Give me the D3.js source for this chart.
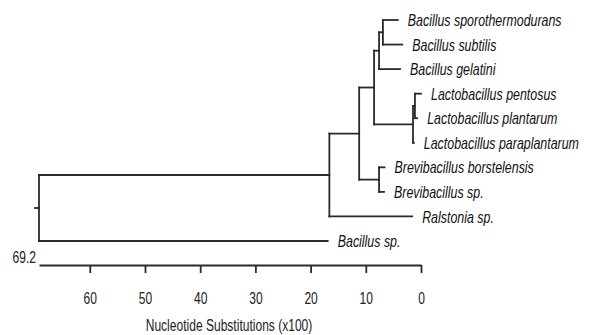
<!DOCTYPE html>
<html>
<head>
<meta charset="utf-8">
<script src="https://cdn.jsdelivr.net/npm/d3@7"></script>
<style>
  body { margin: 0; background: #fff; }
  svg { display: block; }
  .branch { fill: none; stroke: #2a2a2a; stroke-width: 1.8; stroke-linecap: square; }
  .label { font-family: 'Liberation Sans', Arial, sans-serif; font-style: italic; font-size: 17px; fill: #111; }
  .axis text, .axis-title, .axis-max { font-family: 'Liberation Sans', Arial, sans-serif; font-size: 16.5px; fill: #222; }
  .axis path, .axis line { stroke: #2a2a2a; stroke-width: 1.8; }
</style>
</head>
<body>
<div id="tree"></div>
<script>
const width = 595;
const height = 335;
const narrow = 0.73; // the type in the reference is condensed

// tree nodes, parent ids and node depth on the substitution scale
const nodeIds = [
  'root', 'n1', 'n2', 'n3', 'n4', 'n5',
  'Bacillus sporothermodurans', 'Bacillus subtilis', 'Bacillus gelatini',
  'n6', 'n7', 'Lactobacillus pentosus', 'Lactobacillus plantarum', 'Lactobacillus paraplantarum',
  'n8', 'Brevibacillus borstelensis', 'Brevibacillus sp.',
  'Ralstonia sp.', 'Bacillus sp.'
];
const parentIds = [
  null, 'root', 'n1', 'n2', 'n3', 'n4',
  'n5', 'n5', 'n4',
  'n3', 'n6', 'n7', 'n7', 'n6',
  'n2', 'n8', 'n8',
  'n1', 'root'
];
const nodeHeights = [
  69.2, 16.6, 11.2, 8.5, 7.6, 6.9,
  4.2, 3.4, 3.8,
  1.45, 1.1, 0, 0.7, 1.3,
  7.6, 6.6, 6.7,
  1.6, 16.9
];

const axisTicks = [60, 50, 40, 30, 20, 10, 0];
const axisMax = '69.2';
const axisTitle = 'Nucleotide Substitutions (x100)';

const table = nodeIds.map((id, i) => ({id: id, parent: parentIds[i], h: nodeHeights[i]}));
const root = d3.stratify().id((d) => d.id).parentId((d) => d.parent)(table);
const leaves = root.leaves();

const x = d3.scaleLinear().domain([nodeHeights[0], 0]).range([39, 421]);
const y = d3.scalePoint().domain(leaves.map((d) => d.id)).range([20, 241]);

// leaves evenly spaced, inner nodes halfway between first and last child
root.eachAfter((d) => {
  d.x = x(d.data.h);
  d.y = d.children ? (d.children[0].y + d.children[d.children.length - 1].y) / 2 : y(d.id);
});

const svg = d3.select('#tree')
  .append('svg')
    .attr('width', width)
    .attr('height', height);

// horizontal branch to each node
svg.selectAll('line.h')
  .data(root.descendants().filter((d) => d.parent)).enter().append('line')
  .attr('class', 'branch h')
  .attr('x1', (d) => d.parent.x)
  .attr('x2', (d) => d.x)
  .attr('y1', (d) => d.y)
  .attr('y2', (d) => d.y);

// vertical joint at each inner node
svg.selectAll('line.v')
  .data(root.descendants().filter((d) => d.children)).enter().append('line')
  .attr('class', 'branch v')
  .attr('x1', (d) => d.x)
  .attr('x2', (d) => d.x)
  .attr('y1', (d) => d.children[0].y)
  .attr('y2', (d) => d.children[d.children.length - 1].y);

// little stub on the root
svg.append('line')
  .attr('class', 'branch')
  .attr('x1', root.x - 4)
  .attr('x2', root.x)
  .attr('y1', root.y)
  .attr('y2', root.y);

svg.selectAll('text.label')
  .data(leaves).enter().append('text')
  .attr('class', 'label')
  .attr('transform', (d) => 'translate(' + (d.x + 10) + ',' + d.y + ') scale(' + narrow + ',1)')
  .attr('dy', '0.36em')
  .text((d) => d.id);

const axisY = 265;
svg.append('g')
  .attr('class', 'axis')
  .attr('transform', 'translate(0,' + axisY + ')')
  .call(d3.axisBottom(x).tickValues(axisTicks).tickFormat(d3.format('d')).tickSize(8).tickSizeOuter(0).tickPadding(19))
  .call((g) => g.selectAll('.tick text').attr('fill', '#222').attr('transform', 'scale(' + narrow + ',1)'));

svg.append('text')
  .attr('class', 'axis-max')
  .attr('transform', 'translate(' + (x(nodeHeights[0]) - 3) + ',' + (axisY - 2) + ') scale(' + narrow + ',1)')
  .attr('text-anchor', 'end')
  .text(axisMax);

svg.append('text')
  .attr('class', 'axis-title')
  .attr('transform', 'translate(229,331) scale(' + narrow + ',1)')
  .attr('text-anchor', 'middle')
  .text(axisTitle);
</script>
</body>
</html>
